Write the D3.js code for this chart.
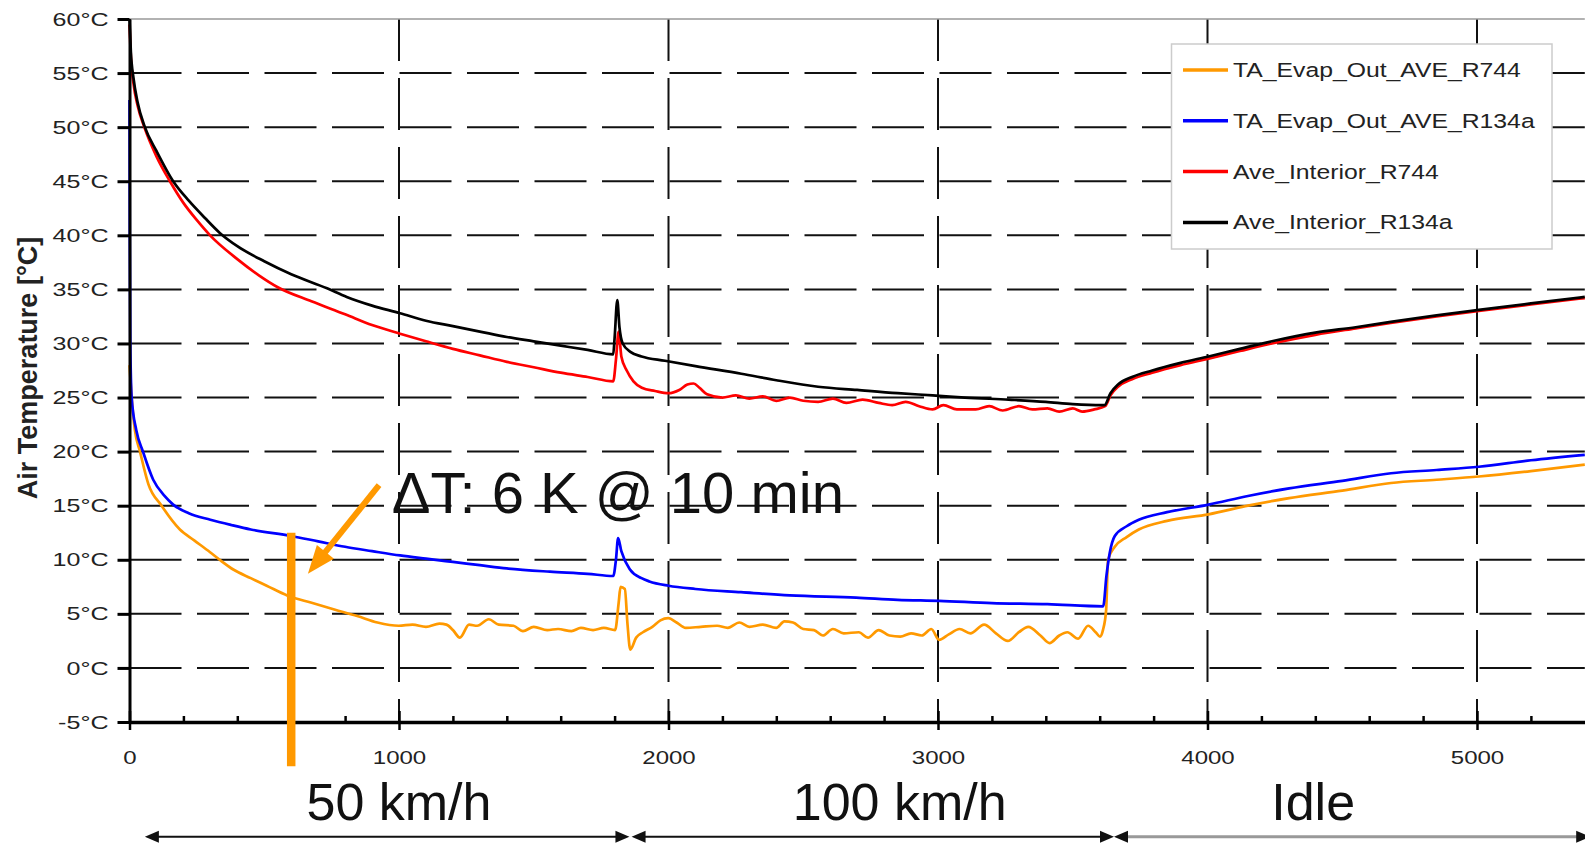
<!DOCTYPE html>
<html>
<head>
<meta charset="utf-8">
<script src="https://cdn.jsdelivr.net/npm/d3@7"></script>
<style>
  body { margin: 0; background: #fff; }
  svg { display: block; }
  text { font-family: "Liberation Sans", Arial, sans-serif; }
</style>
</head>
<body>
<svg width="1585" height="845"></svg>
<script>

// time [s], temperature [°C]
var evapR744 = [[0,28],[8,25],[20,22],[39,20],[70,17],[119,15],[187,12.8],[240,11.8],[299,10.7],[340,9.9],[385,9.1],[450,8.3],[509,7.6],[585,6.7],[679,6.0],[760,5.4],[845,4.8],[920,4.2],[999,3.9],[1050,4.0],[1100,3.8],[1150,4.1],[1176,4.0],[1200,3.5],[1226,2.8],[1260,4.0],[1290,3.9],[1333,4.5],[1370,4.0],[1425,3.9],[1460,3.4],[1500,3.8],[1550,3.5],[1590,3.6],[1640,3.4],[1675,3.7],[1720,3.5],[1760,3.7],[1802,3.5],[1815,6.0],[1822,7.5],[1838,7.3],[1848,4.0],[1858,1.7],[1880,2.8],[1905,3.3],[1940,3.8],[1970,4.4],[1999,4.6],[2030,4.2],[2064,3.7],[2120,3.8],[2180,3.9],[2220,3.7],[2263,4.2],[2300,3.8],[2350,4.0],[2400,3.7],[2430,4.3],[2462,4.2],[2500,3.6],[2540,3.5],[2573,3.0],[2610,3.6],[2650,3.2],[2706,3.3],[2740,2.8],[2780,3.5],[2820,3.0],[2860,2.9],[2900,3.2],[2940,3.0],[2975,3.6],[3004,2.6],[3040,3.1],[3080,3.6],[3120,3.2],[3171,4.0],[3215,3.2],[3259,2.5],[3300,3.3],[3335,3.8],[3380,3.0],[3414,2.3],[3450,3.0],[3480,3.3],[3520,2.7],[3557,3.9],[3585,3.3],[3601,2.9],[3612,3.5],[3624,5.4],[3631,10.0],[3656,11.2],[3700,12.1],[3745,12.8],[3850,13.6],[4004,14.2],[4150,15.0],[4303,15.7],[4500,16.4],[4681,17.1],[4850,17.4],[5007,17.7],[5200,18.2],[5400,18.8]];

var evapR134a = [[0,52.5],[1,40],[3,30],[8,25],[25,22],[50,20],[88,17.4],[130,15.9],[162,15.1],[220,14.3],[300,13.7],[380,13.2],[450,12.8],[600,12.2],[700,11.7],[800,11.2],[900,10.8],[1004,10.4],[1100,10.1],[1200,9.8],[1300,9.5],[1400,9.2],[1560,8.9],[1700,8.7],[1795,8.5],[1805,10.0],[1813,12.0],[1825,10.8],[1857,9.1],[1900,8.3],[1929,8.0],[2000,7.6],[2100,7.3],[2269,7.0],[2450,6.7],[2696,6.5],[2850,6.3],[3004,6.2],[3200,6.0],[3406,5.9],[3613,5.7],[3625,8.5],[3637,10.6],[3656,12.2],[3700,13.1],[3745,13.7],[3850,14.4],[4004,15.1],[4150,15.9],[4303,16.6],[4500,17.3],[4681,18.0],[4850,18.3],[5007,18.6],[5200,19.2],[5400,19.7]];

var interiorR744 = [[0,59.5],[5,56.5],[15,54],[30,52],[55,50],[100,47.3],[150,45],[200,43],[250,41.4],[299,40],[400,37.8],[480,36.3],[550,35.2],[675,33.9],[800,32.7],[900,31.7],[1004,30.9],[1100,30.2],[1200,29.5],[1300,28.9],[1400,28.3],[1500,27.8],[1600,27.3],[1700,26.9],[1795,26.5],[1805,28.5],[1815,31.1],[1825,28.8],[1845,27.5],[1870,26.5],[1901,25.9],[1950,25.6],[2000,25.4],[2040,25.7],[2070,26.2],[2093,26.3],[2115,25.9],[2143,25.3],[2200,25.0],[2250,25.2],[2300,24.9],[2350,25.1],[2400,24.7],[2450,25.0],[2500,24.7],[2555,24.6],[2610,24.9],[2660,24.5],[2720,24.8],[2780,24.5],[2830,24.3],[2880,24.6],[2930,24.2],[2980,23.9],[3020,24.3],[3070,23.9],[3140,23.9],[3190,24.2],[3240,23.8],[3300,24.2],[3350,23.9],[3406,24.0],[3450,23.7],[3500,24.0],[3535,23.7],[3580,23.9],[3620,24.2],[3640,25.2],[3668,26.0],[3720,26.7],[3795,27.3],[3900,28.0],[4004,28.6],[4120,29.3],[4239,30.0],[4400,30.8],[4550,31.4],[4680,31.9],[4850,32.5],[5007,33.0],[5200,33.6],[5400,34.2]];

var interiorR134a = [[0,60],[5,57],[15,54.5],[30,52.3],[57,50],[100,47.8],[162,45],[220,43.2],[280,41.6],[336,40.2],[400,39.0],[500,37.6],[600,36.4],[733,35.1],[806,34.3],[900,33.5],[1004,32.8],[1100,32.1],[1200,31.6],[1300,31.1],[1400,30.6],[1500,30.2],[1600,29.8],[1700,29.4],[1795,29.0],[1800,30.5],[1810,34.0],[1818,31.5],[1830,30.0],[1860,29.2],[1900,28.8],[1987,28.4],[2100,27.9],[2270,27.2],[2400,26.6],[2555,26.0],[2700,25.7],[2850,25.4],[2980,25.2],[3100,25.0],[3263,24.8],[3400,24.6],[3500,24.4],[3605,24.3],[3618,24.3],[3640,25.4],[3668,26.2],[3720,26.9],[3795,27.5],[3900,28.2],[4004,28.8],[4120,29.5],[4239,30.2],[4400,31.0],[4550,31.5],[4680,32.0],[4850,32.6],[5007,33.1],[5200,33.7],[5400,34.3]];

var seriesNames = ["TA_Evap_Out_AVE_R744", "TA_Evap_Out_AVE_R134a", "Ave_Interior_R744", "Ave_Interior_R134a"];
var seriesColors = ["#ff9900", "#0000ff", "#ff0000", "#000000"];

var yTicks = [-5, 0, 5, 10, 15, 20, 25, 30, 35, 40, 45, 50, 55, 60];
var xTicks = [0, 1000, 2000, 3000, 4000, 5000];
var xMinorTicks = [200, 400, 600, 800, 1200, 1400, 1600, 1800, 2200, 2400, 2600, 2800, 3200, 3400, 3600, 3800, 4200, 4400, 4600, 4800, 5200];

// driving phases under the axis
var phaseLabels = ["50 km/h", "100 km/h", "Idle"];
var phaseStart = [57, 1863, 3653];
var phaseEnd = [1855, 3653, 5420];
var phaseLabelAt = [1000, 2858, 4392];

// orange callout
var noteText = "\u0394T: 6 K @ 10 min";
var noteTextAt = [973, 14.35];
var noteBar = [[600, 12.5], [600, -9.1]];
var noteArrow = [[926, 16.9], [662, 8.7]];

var svg = d3.select("svg");

var x = d3.scaleLinear().domain([0, 5400]).range([129.5, 1584.8]);
var y = d3.scaleLinear().domain([-5, 60]).range([722, 19]);

// stretch text horizontally around its own anchor
function stretch(sel, k) {
  sel.each(function() {
    var t = d3.select(this), ax = +t.attr("x") || 0;
    t.attr("transform", "translate(" + ax + ",0) scale(" + k + ",1) translate(" + (-ax) + ",0)");
  });
}

// grid
svg.append("g").selectAll("line")
    .data(yTicks.filter(function(d) { return d > -5 && d < 60; }))
  .enter().append("line")
    .attr("x1", x(0)).attr("x2", x(5400))
    .attr("y1", function(d) { return y(d); })
    .attr("y2", function(d) { return y(d); })
    .attr("stroke", "#111")
    .attr("stroke-width", 2)
    .attr("stroke-dasharray", "52,15.5");

svg.append("g").selectAll("line")
    .data(xTicks.filter(function(d) { return d > 0; }))
  .enter().append("line")
    .attr("x1", function(d) { return x(d); })
    .attr("x2", function(d) { return x(d); })
    .attr("y1", y(60)).attr("y2", y(-5))
    .attr("stroke", "#111")
    .attr("stroke-width", 2)
    .attr("stroke-dasharray", "52,17")
    .attr("stroke-dashoffset", 10);

svg.append("line")
    .attr("x1", x(0)).attr("x2", x(5400))
    .attr("y1", y(60)).attr("y2", y(60))
    .attr("stroke", "#999")
    .attr("stroke-width", 1.5);

// series
var line = d3.line()
    .curve(d3.curveMonotoneX)
    .x(function(d) { return x(d[0]); })
    .y(function(d) { return y(d[1]); });

[evapR744, evapR134a, interiorR744, interiorR134a].forEach(function(s, i) {
  svg.append("path")
      .datum(s)
      .attr("fill", "none")
      .attr("stroke", seriesColors[i])
      .attr("stroke-width", 2.7)
      .attr("stroke-linejoin", "round")
      .attr("d", line);
});

// axes
var yAxis = svg.append("g")
    .attr("transform", "translate(" + x(0) + ",0)")
    .call(d3.axisLeft(y).tickValues(yTicks).tickSize(12).tickSizeOuter(0).tickPadding(9)
      .tickFormat(function(d) { return d + "°C"; }));
yAxis.select(".domain").attr("stroke-width", 3);
yAxis.selectAll(".tick line").attr("stroke-width", 3);
yAxis.selectAll("text").attr("font-size", 19).attr("font-family", null).attr("fill", "#222");
stretch(yAxis.selectAll("text"), 1.32);

var xAxis = svg.append("g")
    .attr("transform", "translate(0," + y(-5) + ")")
    .call(d3.axisBottom(x).tickValues(xTicks).tickSize(8).tickSizeOuter(0).tickPadding(21)
      .tickFormat(d3.format("d")));
xAxis.select(".domain").attr("stroke-width", 3.5);
xAxis.selectAll(".tick line").attr("stroke-width", 2.5);
xAxis.selectAll("text").attr("font-size", 18.5).attr("font-family", null).attr("fill", "#222");
stretch(xAxis.selectAll("text"), 1.3);

var xMinor = svg.append("g")
    .attr("transform", "translate(0," + y(-5) + ")")
    .call(d3.axisTop(x).tickValues(xMinorTicks).tickSize(6).tickFormat(""));
xMinor.select(".domain").remove();
xMinor.selectAll(".tick line").attr("stroke-width", 2.5);

var xMajorUp = svg.append("g")
    .attr("transform", "translate(0," + y(-5) + ")")
    .call(d3.axisTop(x).tickValues(xTicks).tickSize(11).tickFormat(""));
xMajorUp.select(".domain").remove();
xMajorUp.selectAll(".tick line").attr("stroke-width", 2.5);

svg.append("text")
    .attr("transform", "translate(37,368) rotate(-90)")
    .attr("text-anchor", "middle")
    .attr("font-weight", "bold")
    .attr("font-size", 27)
    .attr("fill", "#222")
    .text("Air Temperature [°C]");

// legend
var legend = svg.append("g");
legend.append("rect")
    .attr("x", 1171.5).attr("y", 44)
    .attr("width", 380.5).attr("height", 205)
    .attr("fill", "#fff")
    .attr("stroke", "#ccc")
    .attr("stroke-width", 1.5);

var entry = legend.selectAll(".entry")
    .data(seriesNames)
  .enter().append("g")
    .attr("transform", function(d, i) { return "translate(0," + (70 + i * 50.8) + ")"; });
entry.append("line")
    .attr("x1", 1183).attr("x2", 1228)
    .attr("stroke", function(d, i) { return seriesColors[i]; })
    .attr("stroke-width", 3.5);
var legendText = entry.append("text")
    .attr("x", 1233)
    .attr("dy", "0.36em")
    .attr("font-size", 19.5)
    .attr("fill", "#222")
    .text(function(d) { return d; });
stretch(legendText, 1.27);

// callout
var orange = "#ff9900";
svg.append("line")
    .attr("x1", x(noteBar[0][0])).attr("y1", y(noteBar[0][1]))
    .attr("x2", x(noteBar[1][0])).attr("y2", y(noteBar[1][1]))
    .attr("stroke", orange)
    .attr("stroke-width", 8.5);

function arrowHead(tipX, tipY, fromX, fromY, len, half) {
  var dx = tipX - fromX, dy = tipY - fromY, n = Math.sqrt(dx * dx + dy * dy);
  var ux = dx / n, uy = dy / n;
  var bx = tipX - ux * len, by = tipY - uy * len;
  return [[tipX, tipY], [bx - uy * half, by + ux * half], [bx + uy * half, by - ux * half]];
}

var a0 = [x(noteArrow[0][0]), y(noteArrow[0][1])], a1 = [x(noteArrow[1][0]), y(noteArrow[1][1])];
var head = arrowHead(a1[0], a1[1], a0[0], a0[1], 28, 11);
var nx = (a1[0] - a0[0]), ny = (a1[1] - a0[1]), nn = Math.sqrt(nx * nx + ny * ny);
svg.append("line")
    .attr("x1", a0[0]).attr("y1", a0[1])
    .attr("x2", a1[0] - nx / nn * 20).attr("y2", a1[1] - ny / nn * 20)
    .attr("stroke", orange)
    .attr("stroke-width", 6);
svg.append("polygon")
    .attr("points", head.join(" "))
    .attr("fill", orange);

svg.append("text")
    .attr("x", x(noteTextAt[0]))
    .attr("y", y(noteTextAt[1]))
    .attr("font-size", 58)
    .attr("fill", "#111")
    .text(noteText);

// phases
var arrowY = 836.7;
phaseLabels.forEach(function(label, i) {
  var x0 = x(phaseStart[i]), x1 = x(phaseEnd[i]);
  svg.append("line")
      .attr("x1", x0 + 8).attr("x2", x1 - 8)
      .attr("y1", arrowY).attr("y2", arrowY)
      .attr("stroke", i == 2 ? "#999" : "#111")
      .attr("stroke-width", i == 2 ? 3 : 2);
  svg.append("polygon")
      .attr("points", arrowHead(x0, arrowY, x0 + 10, arrowY, 14, 6).join(" "))
      .attr("fill", "#111");
  svg.append("polygon")
      .attr("points", arrowHead(x1, arrowY, x1 - 10, arrowY, 14, 6).join(" "))
      .attr("fill", "#111");
  svg.append("text")
      .attr("x", x(phaseLabelAt[i]))
      .attr("y", 820)
      .attr("text-anchor", "middle")
      .attr("font-size", 52)
      .attr("fill", "#111")
      .text(label);
});

</script>
</body>
</html>
